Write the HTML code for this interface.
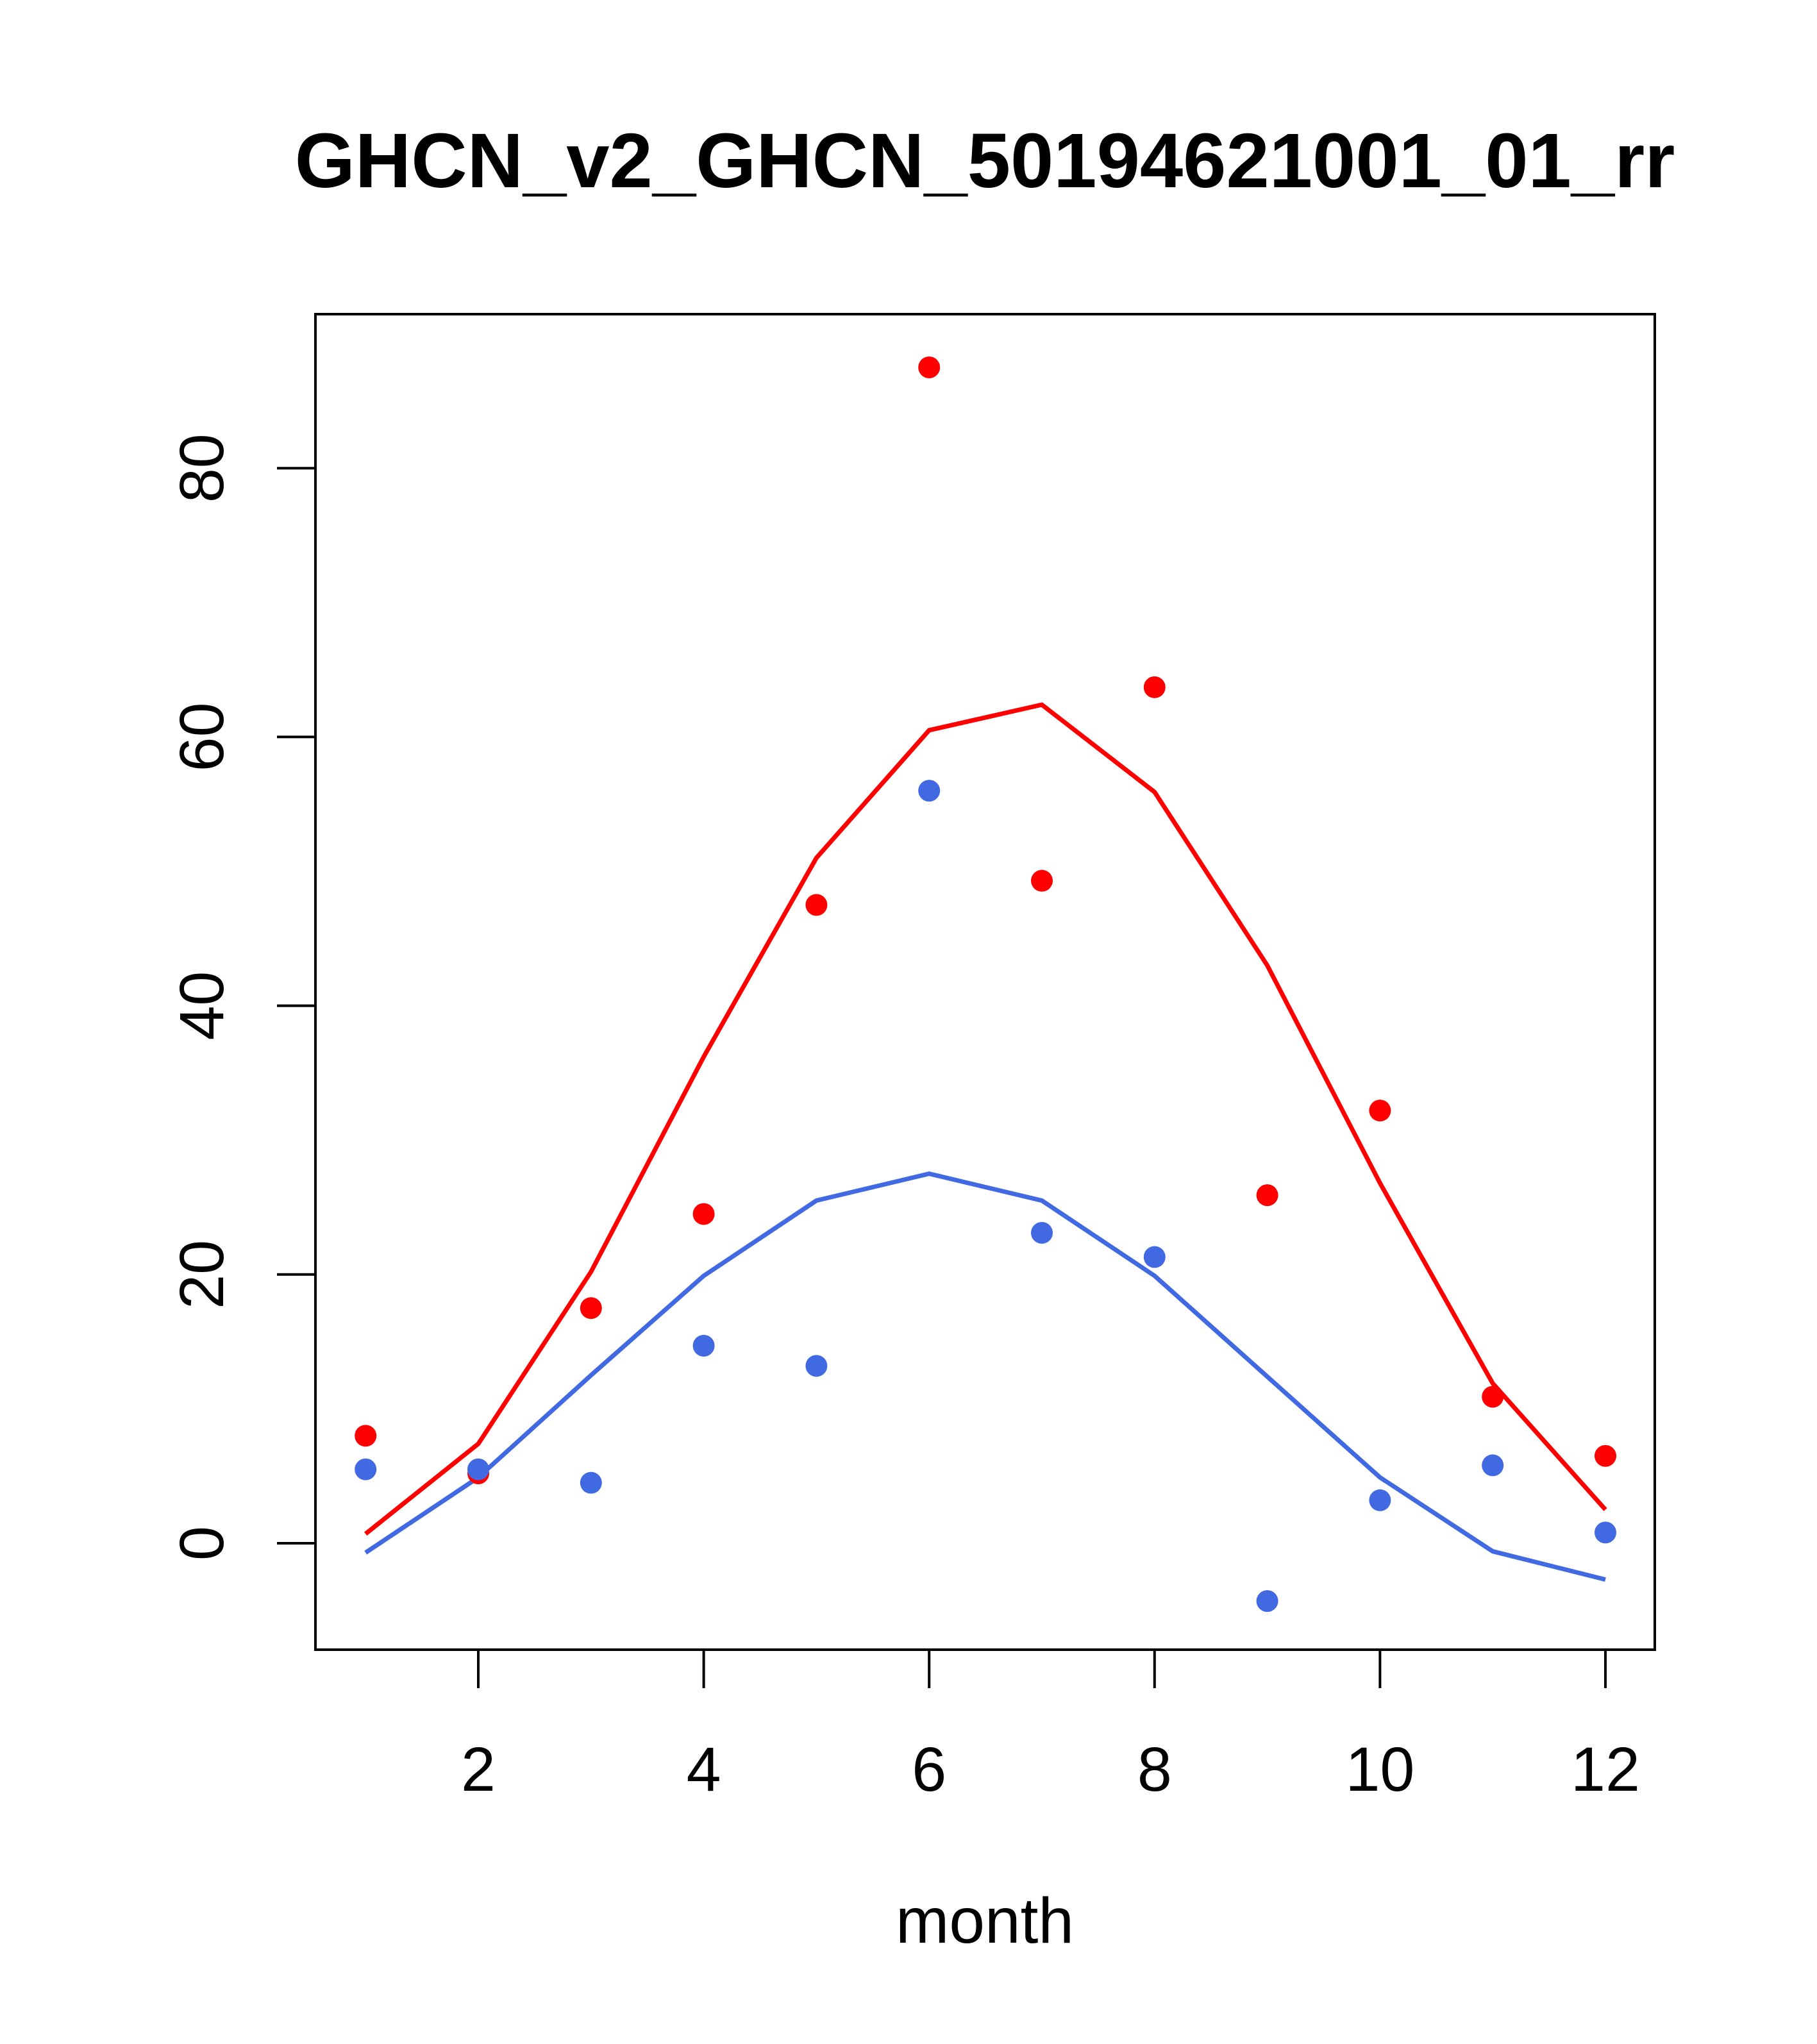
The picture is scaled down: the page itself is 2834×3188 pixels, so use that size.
<!DOCTYPE html>
<html><head><meta charset="utf-8"><style>body{margin:0;background:#fff}svg{display:block}</style></head>
<body>
<svg id="chart" width="2834" height="3188" xmlns="http://www.w3.org/2000/svg" font-family="Liberation Sans, sans-serif">
<rect width="2834" height="3188" fill="#fff"/>
<text x="1536" y="292" font-size="121" font-weight="bold" text-anchor="middle">GHCN_v2_GHCN_50194621001_01_rr</text>
<rect x="492" y="490" width="2089" height="2083" fill="none" stroke="#000" stroke-width="4"/>
<text x="1536" y="3030" font-size="100" text-anchor="middle">month</text>
<g id="xaxis"></g>
<g id="yaxis"></g>
<g id="series"></g>
</svg>
<script>
const months=[1,2,3,4,5,6,7,8,9,10,11,12];
const redPoints=[8.0,5.2,17.5,24.5,47.5,87.5,49.3,63.7,25.9,32.2,10.9,6.5];
const redLine=[0.7,7.4,20.2,36.2,51.0,60.5,62.4,55.9,43.0,26.8,11.9,2.5];
const bluePoints=[5.5,5.5,4.5,14.7,13.2,56.0,23.1,21.3,-4.3,3.2,5.8,0.8];
const blueLine=[-0.7,4.9,12.5,19.9,25.5,27.5,25.5,19.9,12.4,4.9,-0.6,-2.7];
const xTicks=[2,4,6,8,10,12];
const yTicks=[0,20,40,60,80];
const NS="http://www.w3.org/2000/svg";
function X(m){return 746+(m-2)*175.8;}
function Y(v){return 2407-v*20.96;}
function mk(tag,attrs,parent){const e=document.createElementNS(NS,tag);for(const k in attrs)e.setAttribute(k,attrs[k]);parent.appendChild(e);return e;}
const xa=document.getElementById('xaxis'),ya=document.getElementById('yaxis'),sr=document.getElementById('series');
mk('line',{x1:X(2),x2:X(12),y1:2573,y2:2573,stroke:'#000','stroke-width':4},xa);
xTicks.forEach(t=>{
 const l=mk('line',{x1:X(t),x2:X(t),y1:2573,y2:2633,stroke:'#000','stroke-width':4},xa);
 
 
 const tx=mk('text',{x:X(t),y:2793,'font-size':97,'text-anchor':'middle'},xa);tx.textContent=t;
 
 
});
yTicks.forEach(t=>{
 const l=mk('line',{x1:432,x2:492,y1:Y(t),y2:Y(t),stroke:'#000','stroke-width':4},ya);
 
 
 const tx=mk('text',{x:0,y:0,'font-size':97,'text-anchor':'middle',transform:`translate(348,${Y(t)}) rotate(-90)`},ya);tx.textContent=t;
 
 
});
function line(vals,color,name){
 const p=mk('polyline',{points:vals.map((v,i)=>X(months[i])+','+Y(v)).join(' '),fill:'none',stroke:color,'stroke-width':7},sr);
 
 
}
function pts(vals,color,name){
 vals.forEach((v,i)=>{const c=mk('circle',{cx:X(months[i]),cy:Y(v),r:17,fill:color},sr);
 
 });
}
line(redLine,'#ff0000','red-line');
line(blueLine,'#4169e1','blue-line');
pts(redPoints,'#ff0000','red-point');
pts(bluePoints,'#4169e1','blue-point');
</script>
</body></html>
